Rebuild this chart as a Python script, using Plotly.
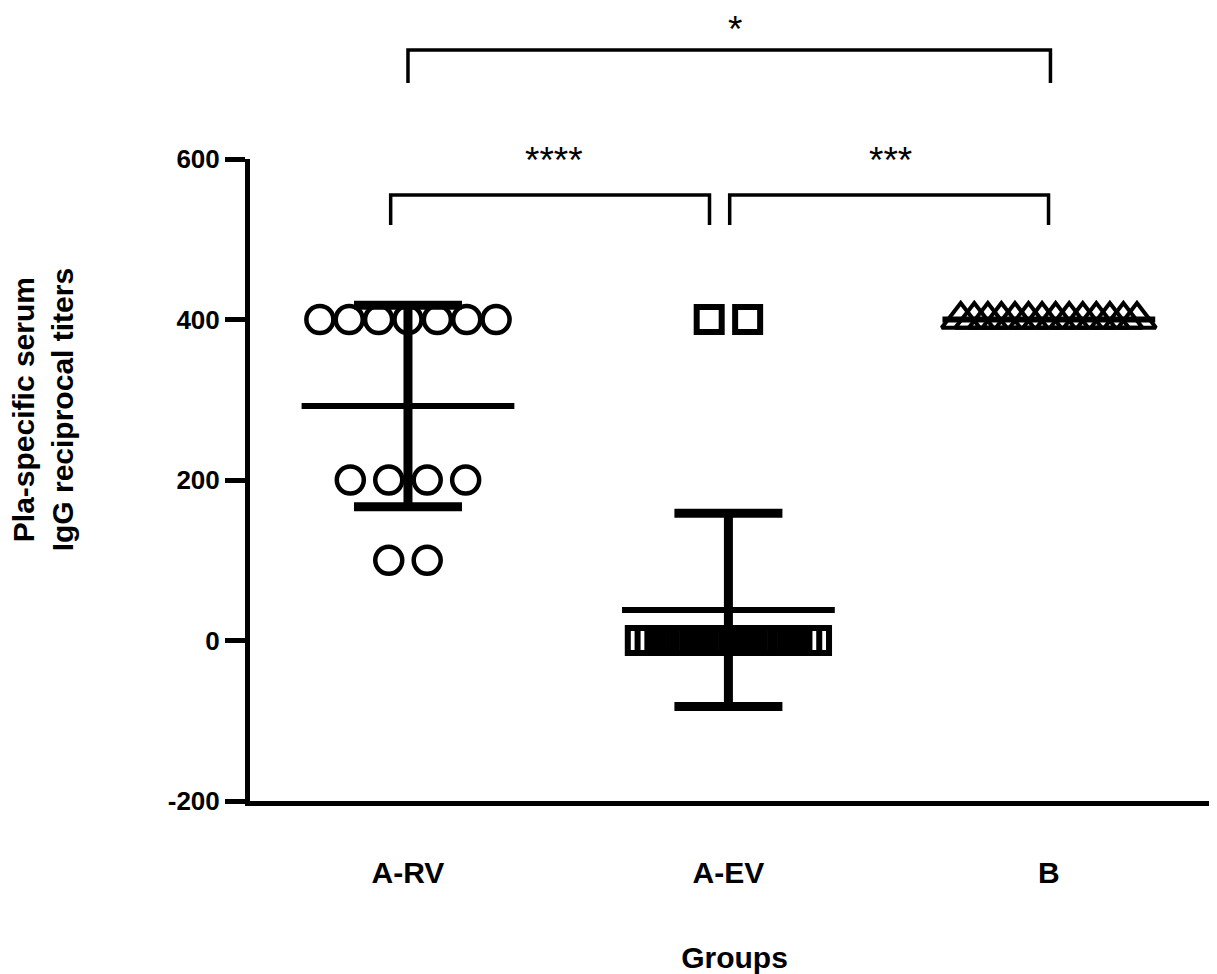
import numpy as np
import plotly.graph_objects as go

# ---------------- data ----------------
groups = ["A-RV", "A-EV", "B"]
a_rv = [400, 400, 400, 400, 400, 400, 400, 200, 200, 200, 200, 100, 100]
a_ev = [400, 400] + [0] * 19
b_grp = [400] * 14
series = [a_rv, a_ev, b_grp]
symbols = ["circle-open", "square-open", "triangle-up-open"]
y_ticks = [-200, 0, 200, 400, 600]
y_tick_labels = ["-200", "0", "200", "400", "600"]
comparisons = [("A-RV", "B", "*"), ("A-RV", "A-EV", "****"), ("A-EV", "B", "***")]
y_title = "Pla-specific serum<br>IgG reciprocal titers"
x_title = "Groups"

# ---------------- layout helpers ----------------
X_RANGE = [-0.493, 2.531]
FONT = "Liberation Sans, Arial, sans-serif"


def spread(values, center, span=0.55, max_step=0.12):
    """Scatter-dot-plot layout: spread equal values side by side around the category."""
    xs = np.zeros(len(values))
    vals = np.array(values, dtype=float)
    for v in np.unique(vals):
        idx = np.where(vals == v)[0]
        n = len(idx)
        step = min(max_step, span / (n - 1)) if n > 1 else 0
        offs = (np.arange(n) - (n - 1) / 2) * step
        xs[idx] = center + offs
    return xs


fig = go.Figure()

marker_styles = {
    "circle-open": dict(size=27, line=dict(width=4.5, color="black")),
    "square-open": dict(size=25, line=dict(width=6, color="black")),
    "triangle-up-open": dict(size=33, line=dict(width=4, color="black")),
}

# points
for i, (g, vals, sym) in enumerate(zip(groups, series, symbols)):
    xs = spread(vals, i)
    st = marker_styles[sym]
    fig.add_trace(go.Scatter(
        x=xs, y=vals, mode="markers", name=g, showlegend=False,
        marker=dict(symbol=sym, color="black", size=st["size"], line=st["line"]),
        cliponaxis=False,
    ))

# mean lines
for i, vals in enumerate(series):
    m = float(np.mean(vals))
    fig.add_trace(go.Scatter(
        x=[i - 0.332, i + 0.332], y=[m, m], mode="lines", showlegend=False,
        line=dict(color="black", width=6), hoverinfo="skip",
    ))

# SD error bars
for i, vals in enumerate(series):
    m = float(np.mean(vals))
    sd = float(np.std(vals, ddof=1))
    if sd > 0:
        fig.add_trace(go.Scatter(
            x=[i], y=[m], mode="markers", showlegend=False,
            marker=dict(size=1, color="rgba(0,0,0,0)"),
            error_y=dict(type="data", array=[sd], visible=True,
                         color="black", thickness=9, width=54),
            hoverinfo="skip",
        ))

# significance brackets (above the plot area)
bracket_geom = {
    "*": dict(x0=0.0, x1=2.005, ytop=1.1698, ybot=1.1184, tx=1.022, ty=1.2352, anchor="top"),
    "****": dict(x0=-0.054, x1=0.941, ytop=0.9439, ybot=0.8972, tx=0.455, ty=0.998, anchor="middle"),
    "***": dict(x0=1.004, x1=1.999, ytop=0.9439, ybot=0.8972, tx=1.506, ty=0.998, anchor="middle"),
}
for g1, g2, label in comparisons:
    bg = bracket_geom[label]
    fig.add_shape(
        type="path", xref="x", yref="paper",
        path=f"M {bg['x0']} {bg['ybot']} L {bg['x0']} {bg['ytop']} L {bg['x1']} {bg['ytop']} L {bg['x1']} {bg['ybot']}",
        line=dict(color="black", width=3.5),
    )
    fig.add_annotation(
        x=bg["tx"], y=bg["ty"], xref="x", yref="paper", text=label,
        showarrow=False, font=dict(family=FONT, size=37, color="black"),
        yanchor=bg["anchor"], xanchor="center", borderpad=0,
    )

# y-axis title (placed above the axis centre, as in the original)
fig.add_annotation(
    x=-0.2133, y=0.609, xref="paper", yref="paper", text=f"<b>{y_title}</b>",
    textangle=-90, showarrow=False, xanchor="center", yanchor="middle", borderpad=0,
    font=dict(family=FONT, size=30, color="black"),
)

fig.update_layout(
    width=1211, height=966,
    margin=dict(l=242, r=0, t=151, b=173),
    plot_bgcolor="white", paper_bgcolor="white",
    showlegend=False,
    font=dict(family=FONT, color="black"),
)

fig.update_xaxes(
    range=X_RANGE, tickvals=[0, 1, 2], ticktext=[f"<b>{g}</b>" for g in groups],
    showline=True, linewidth=5, linecolor="black",
    ticks="", showgrid=False, zeroline=False,
    tickfont=dict(family=FONT, size=30, color="black"),
    ticklabelstandoff=41,
    title=dict(text=f"<b>{x_title}</b>", font=dict(family=FONT, size=30, color="black"), standoff=60),
)
fig.update_yaxes(
    range=[-200, 600], tickvals=y_ticks, ticktext=[f"<b>{t}</b>" for t in y_tick_labels],
    showline=True, linewidth=5, linecolor="black",
    ticks="outside", ticklen=20, tickwidth=5, tickcolor="black",
    showgrid=False, zeroline=False,
    tickfont=dict(family=FONT, size=26, color="black"),
    ticklabelstandoff=0,
)

fig.write_html("out.html")
